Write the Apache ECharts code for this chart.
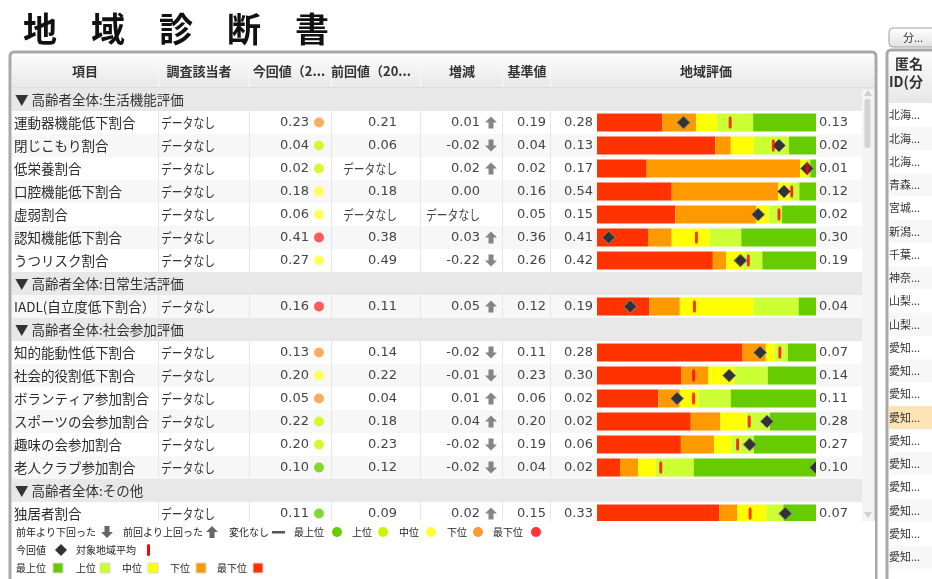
<!DOCTYPE html>
<html>
<head>
<meta charset="utf-8">
<title>地域診断書</title>
<script src="https://cdn.jsdelivr.net/npm/echarts@6/dist/echarts.min.js"></script>
<style>
html,body{margin:0;padding:0;background:#fff}
#main{width:932px;height:579px}
</style>
</head>
<body>
<div id="main"></div>
<script>
// rows of the table (group rows start with ▼)
var items = ['▼ 高齢者全体:生活機能評価','運動器機能低下割合','閉じこもり割合','低栄養割合','口腔機能低下割合','虚弱割合','認知機能低下割合','うつリスク割合',
  '▼ 高齢者全体:日常生活評価','IADL(自立度低下割合）',
  '▼ 高齢者全体:社会参加評価','知的能動性低下割合','社会的役割低下割合','ボランティア参加割合','スポーツの会参加割合','趣味の会参加割合','老人クラブ参加割合',
  '▼ 高齢者全体:その他','独居者割合'];
var headers = ['項目','調査該当者','今回値（2...','前回値（20...','増減','基準値','地域評価'];

// values of the data rows, top to bottom
var respondents = ['データなし','データなし','データなし','データなし','データなし','データなし','データなし','データなし','データなし','データなし','データなし','データなし','データなし','データなし','データなし'];
var current  = ['0.23','0.04','0.02','0.18','0.06','0.41','0.27','0.16','0.13','0.20','0.05','0.22','0.20','0.10','0.11'];
var currentRank = ['下位','上位','上位','中位','中位','最下位','中位','最下位','下位','中位','下位','上位','上位','最上位','最上位'];
var previous = ['0.21','0.06','データなし','0.18','データなし','0.38','0.49','0.11','0.14','0.22','0.04','0.18','0.23','0.12','0.09'];
var change   = ['0.01','-0.02','0.02','0.00','データなし','0.03','-0.22','0.05','-0.02','-0.01','0.01','0.04','-0.02','-0.02','0.02'];
var standard = ['0.19','0.04','0.02','0.16','0.05','0.36','0.26','0.12','0.11','0.23','0.06','0.20','0.19','0.04','0.15'];
var worstEnd = ['0.28','0.13','0.17','0.54','0.15','0.41','0.42','0.19','0.28','0.30','0.02','0.02','0.06','0.02','0.33'];
var bestEnd  = ['0.13','0.02','0.01','0.12','0.02','0.30','0.19','0.04','0.07','0.14','0.11','0.28','0.27','0.10','0.07'];

// 地域評価 band widths (% of bar)
var segWorst = [29.9,54.0,22.7,34.1,35.7,23.3,52.9,23.9,66.5,38.4,28.0,42.8,38.3,10.5,55.9];
var segLow   = [15.4, 7.1,70.1,48.7,36.9,10.8, 6.1,13.9,10.6,12.5, 9.8,13.5,15.2, 8.3, 8.2];
var segMid   = [ 9.4,10.5, 2.3, 5.5, 5.8,17.3, 8.1,33.7, 4.0,11.9, 8.5,12.1, 7.8, 8.0,13.4];
var segHigh  = [16.6,16.1, 2.3, 4.1, 6.1,14.5, 8.4,20.6, 6.1,15.2,14.8,10.6,10.3,17.4, 7.6];
var segBest  = [28.7,12.3, 2.6, 7.6,15.5,34.1,24.5, 7.9,12.8,22.0,38.9,21.0,28.4,55.8,14.9];
var currentPos = [39.5,83.1,95.9,85.4,73.6, 5.3,65.5,15.2,74.5,60.4,36.6,77.6,69.7,100,86.0];
var averagePos = [60.8,80.5,96.0,88.9,83.1,45.4,69.1,44.5,83.5,44.1,44.1,69.5,64.2,29.1,69.9];

var sideIds = ['北海...','北海...','北海...','青森...','宮城...','新潟...','千葉...','神奈...','山梨...','山梨...',
  '愛知...','愛知...','愛知...','愛知...','愛知...','愛知...','愛知...','愛知...','愛知...','愛知...'];

var rankColor = {'最上位':'#66cc00','上位':'#ccf500','中位':'#ffff33','下位':'#ff9933','最下位':'#ff3333'};
var bandColor = ['#ff3300','#ff9900','#ffff00','#ccff33','#66cc00'];

var ROW_TOP = 88, ROW_H = 23;
var JP = '"Noto Sans CJK JP"';
var NUM = '"DejaVu Sans"';
function rowY(i) { return ROW_TOP + ROW_H * i + ROW_H / 2; }
function isGroup(i) { return items[i].charAt(0) === '▼'; }

var dataRows = [];
items.forEach(function (it, i) { if (!isGroup(i)) dataRows.push(i); });
function spread(arr) {
  var out = [], k = 0;
  items.forEach(function (it, i) { out.push(isGroup(i) ? '-' : arr[k++]); });
  return out;
}

var g = [];
function text(x, y, s, font, fill, align, z, scaleX) {
  var el = {
    type: 'text', x: x, y: y, z: z || 3,
    style: { text: s, font: font, fill: fill || '#333', align: align || 'left', textAlign: align || 'left',
      verticalAlign: 'middle', textVerticalAlign: 'middle' }
  };
  if (scaleX) el.scaleX = scaleX;
  g.push(el);
}
function rect(x, y, w, h, fill, z, extra) {
  var el = { type: 'rect', z: z || 0, shape: { x: x, y: y, width: w, height: h, r: (extra && extra.r) || 0 }, style: { fill: fill } };
  if (extra && extra.stroke) { el.style.stroke = extra.stroke; el.style.lineWidth = extra.lw || 1; }
  g.push(el);
}
function poly(pts, fill, z, stroke) {
  g.push({ type: 'polygon', z: z, shape: { points: pts }, style: { fill: fill, stroke: stroke || null, lineWidth: 1 } });
}
function grad(a, b) {
  return { type: 'linear', x: 0, y: 0, x2: 0, y2: 1, colorStops: [{ offset: 0, color: a }, { offset: 1, color: b }] };
}
function nodata(s) { return s === 'データなし' ? 0.8 : null; }

// title
text(23, 29, '地　域　診　断　書', 'bold 34px ' + JP, '#111', 'left', 3);

// main panel
rect(10, 52, 866, 570, '#fff', 0, { stroke: '#a8a8a8', lw: 3, r: 4 });
rect(12, 55, 862, 33, grad('#fcfcfc', '#e7e7e7'), 0);
g.push({ type: 'line', z: 1, shape: { x1: 12, y1: 88, x2: 874, y2: 88 }, style: { stroke: '#d2d2d2', lineWidth: 1 } });
[158.5, 249.5, 331.5, 420.5, 502.5, 550.5].forEach(function (x) {
  g.push({ type: 'line', z: 1, shape: { x1: x, y1: 57, x2: x, y2: 87 }, style: { stroke: '#f8f8f8', lineWidth: 1 } });
});
var headX = [85, 199, 289, 371, 462, 527, 706];
headers.forEach(function (h, i) { text(headX[i], 71, h, 'bold 13px ' + JP, '#333', 'center', 3); });

// row backgrounds, dividers
var k = 0;
items.forEach(function (it, i) {
  var top = ROW_TOP + ROW_H * i;
  if (isGroup(i)) {
    rect(12, top, 850, ROW_H, '#e8e8e8', 1);
  } else {
    rect(12, top, 850, ROW_H, k % 2 ? '#f7f7f7' : '#ffffff', 0);
    [158.5, 249.5, 331.5, 420.5, 502.5, 550.5].forEach(function (x) {
      g.push({ type: 'line', z: 0.5, shape: { x1: x, y1: top, x2: x, y2: top + ROW_H }, style: { stroke: '#e6e6e6', lineWidth: 1 } });
    });
    k++;
  }
});

// scrollbar
rect(862, 88, 12, 433, '#f4f4f4', 0);
poly([[868, 90], [872, 96], [864, 96]], '#d0d0d0', 1);
rect(864.5, 99, 6, 49, '#d3d3d3', 1, { r: 2 });
poly([[864, 512], [872, 512], [868, 518]], '#d0d0d0', 1);

// table text
items.forEach(function (it, i) {
  if (isGroup(i)) text(15, rowY(i), it, '13.5px ' + JP, '#333', 'left', 3);
});
dataRows.forEach(function (ri, d) {
  var y = rowY(ri);
  text(14, y, items[ri], '13.5px ' + JP, '#2a2a2a', 'left', 3);
  text(161, y, respondents[d], '13.5px ' + JP, '#333', 'left', 3, nodata(respondents[d]));
  text(309, y, current[d], '13px ' + NUM, '#444', 'right', 3);
  text(397, y, previous[d], (nodata(previous[d]) ? '13.5px ' + JP : '13px ' + NUM), '#444', 'right', 3, nodata(previous[d]));
  text(480, y, change[d], (nodata(change[d]) ? '13.5px ' + JP : '13px ' + NUM), '#444', 'right', 3, nodata(change[d]));
  text(546, y, standard[d], '13px ' + NUM, '#444', 'right', 3);
  text(593, y, worstEnd[d], '13px ' + NUM, '#444', 'right', 3);
  text(819, y, bestEnd[d], '13px ' + NUM, '#444', 'left', 3);
});

// cover below the visible table + legend
rect(12, 521, 863, 60, '#fff', 100);
var LF = '10px ' + JP;
function upArrow(cx, cy, z) { poly([[cx, cy - 6], [cx + 6, cy], [cx + 2.5, cy], [cx + 2.5, cy + 6], [cx - 2.5, cy + 6], [cx - 2.5, cy], [cx - 6, cy]], '#666', z); }
function downArrow(cx, cy, z) { poly([[cx, cy + 6], [cx + 6, cy], [cx + 2.5, cy], [cx + 2.5, cy - 6], [cx - 2.5, cy - 6], [cx - 2.5, cy], [cx - 6, cy]], '#666', z); }
function dot(cx, cy, c, z) { g.push({ type: 'circle', z: z, shape: { cx: cx, cy: cy, r: 5 }, style: { fill: c } }); }
var L1 = 532, L2 = 550, L3 = 568;
text(16, L1, '前年より下回った', LF, '#222', 'left', 101); downArrow(107, L1, 101);
text(123, L1, '前回より上回った', LF, '#222', 'left', 101); upArrow(212, L1, 101);
text(229, L1, '変化なし', LF, '#222', 'left', 101); rect(272, L1 - 1, 13, 2.5, '#555', 101);
text(294, L1, '最上位', LF, '#222', 'left', 101); dot(337, L1, rankColor['最上位'], 101);
text(352, L1, '上位', LF, '#222', 'left', 101); dot(383, L1, rankColor['上位'], 101);
text(399, L1, '中位', LF, '#222', 'left', 101); dot(431, L1, rankColor['中位'], 101);
text(447, L1, '下位', LF, '#222', 'left', 101); dot(478, L1, rankColor['下位'], 101);
text(493, L1, '最下位', LF, '#222', 'left', 101); dot(536, L1, rankColor['最下位'], 101);
text(16, L2, '今回値', LF, '#222', 'left', 101);
poly([[61, L2 - 6], [67, L2], [61, L2 + 6], [55, L2]], '#333', 101);
text(76, L2, '対象地域平均', LF, '#222', 'left', 101);
rect(147, L2 - 6, 3, 12, '#ff0000', 101, { r: 1.5 });
var l3 = [['最上位', 16, 53], ['上位', 76, 100], ['中位', 122, 148], ['下位', 170, 196], ['最下位', 217, 253]];
l3.forEach(function (e, i) {
  text(e[1], L3, e[0], LF, '#222', 'left', 101);
  rect(e[2], L3 - 5, 10, 10, bandColor[4 - i], 101, { stroke: '#d8d8d8', lw: 1 });
});

// side panel
rect(889, 28, 50, 19, grad('#ffffff', '#e2e2e2'), 0, { stroke: '#a0a0a0', lw: 1, r: 4 });
text(903, 37.5, '分...', '11px ' + JP, '#333', 'left', 3);
rect(887, 50, 60, 570, '#fff', 0, { stroke: '#a8a8a8', lw: 3, r: 4 });
rect(889, 53, 50, 50, grad('#fcfcfc', '#e7e7e7'), 0);
text(895, 64, '匿名', 'bold 14px ' + JP, '#333', 'left', 3);
text(889, 82, 'ID(分', 'bold 14px ' + JP, '#333', 'left', 3);
sideIds.forEach(function (s, i) {
  var top = 103.5 + 23.25 * i;
  rect(889, top, 50, 23.25, i === 13 ? '#fde2b6' : (i % 2 ? '#f7f7f7' : '#ffffff'), 0);
  text(889, top + 11.6, s, '11px ' + JP, '#333', 'left', 3);
});

// marks
var dotData = dataRows.map(function (ri, d) {
  return { value: [319, ri], itemStyle: { color: rankColor[currentRank[d]] } };
});
var upData = [], downData = [];
dataRows.forEach(function (ri, d) {
  var v = parseFloat(change[d]);
  if (v > 0) upData.push([491, ri]);
  else if (v < 0) downData.push([491, ri]);
});
var names = ['最下位', '下位', '中位', '上位', '最上位'];
var segs = [segWorst, segLow, segMid, segHigh, segBest];
var barSeries = segs.map(function (s, i) {
  return {
    name: names[i], type: 'bar', stack: 'area', xAxisIndex: 0, yAxisIndex: 0,
    barWidth: 18, itemStyle: { color: bandColor[i] }, data: spread(s), z: 2
  };
});

var chart = echarts.init(document.getElementById('main'));
chart.setOption({
  animation: false,
  backgroundColor: '#fff',
  graphic: { elements: g },
  grid: [
    { left: 597, top: ROW_TOP, width: 219, height: ROW_H * items.length },
    { left: 0, top: ROW_TOP, width: 932, height: ROW_H * items.length }
  ],
  xAxis: [
    { type: 'value', gridIndex: 0, min: 0, max: 100, show: false },
    { type: 'value', gridIndex: 1, min: 0, max: 932, show: false }
  ],
  yAxis: [
    { type: 'category', gridIndex: 0, data: items, inverse: true, show: false },
    { type: 'category', gridIndex: 1, data: items, inverse: true, show: false }
  ],
  series: barSeries.concat([
    {
      name: '今回値', type: 'custom', xAxisIndex: 0, yAxisIndex: 0, clip: true, z: 4,
      data: dataRows.map(function (ri, d) { return [currentPos[d], ri]; }),
      renderItem: function (params, api) {
        var c = api.coord([api.value(0), api.value(1)]);
        var s = 6.5;
        return {
          type: 'polygon',
          shape: { points: [[c[0], c[1] - s], [c[0] + s, c[1]], [c[0], c[1] + s], [c[0] - s, c[1]]] },
          style: { fill: '#333', stroke: '#8a8a8a', lineWidth: 1 }
        };
      }
    },
    {
      name: '対象地域平均', type: 'scatter', xAxisIndex: 0, yAxisIndex: 0, z: 5,
      symbol: 'roundRect', symbolSize: [3, 12], itemStyle: { color: '#ff0000' },
      data: dataRows.map(function (ri, d) { return [averagePos[d], ri]; })
    },
    {
      name: '順位', type: 'scatter', xAxisIndex: 1, yAxisIndex: 1, z: 5,
      symbol: 'circle', symbolSize: 10, data: dotData
    },
    {
      name: '上回った', type: 'scatter', xAxisIndex: 1, yAxisIndex: 1, z: 5,
      symbol: 'path://M6,0L12,6L8.5,6L8.5,12L3.5,12L3.5,6L0,6Z', symbolSize: [12, 12],
      itemStyle: { color: '#666' }, data: upData
    },
    {
      name: '下回った', type: 'scatter', xAxisIndex: 1, yAxisIndex: 1, z: 5,
      symbol: 'path://M3.5,0L8.5,0L8.5,6L12,6L6,12L0,6L3.5,6Z', symbolSize: [12, 12],
      itemStyle: { color: '#666' }, data: downData
    }
  ])
});
</script>
</body>
</html>
